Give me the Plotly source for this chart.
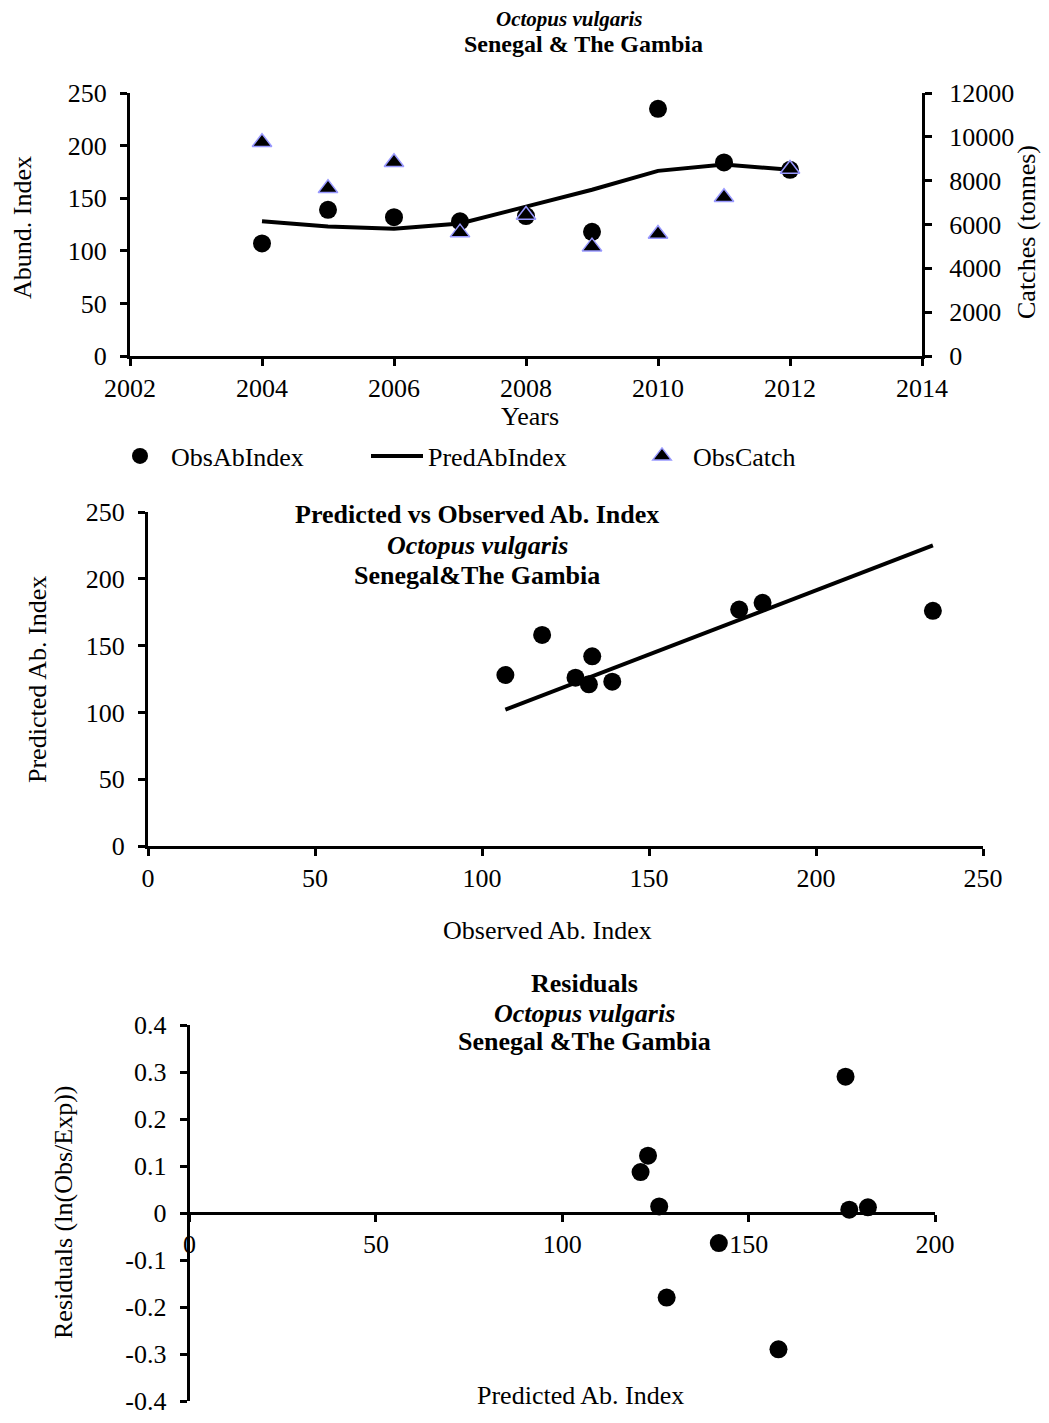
import plotly.graph_objects as go

# the page body keeps its default 8px margin, so the figure is drawn 8px in
OFF = 8
W, H = 1049 - 2 * OFF, 1423 - 2 * OFF

years = [2004, 2005, 2006, 2007, 2008, 2009, 2010, 2011, 2012]
obs_index = [107, 139, 132, 128, 133, 118, 235, 184, 177]
pred_index = [128, 123, 121, 126, 142, 158, 176, 182, 177]
obs_catch = [9750, 7650, 8840, 5630, 6430, 4990, 5570, 7240, 8530]
residuals = [-0.18, 0.122, 0.087, 0.014, -0.064, -0.29, 0.29, 0.012, 0.007]
trend_x = [107, 235]
trend_y = [102, 225]
resid_ticks = [-0.4, -0.3, -0.2, -0.1, 0, 0.1, 0.2, 0.3, 0.4]
resid_labels = ["-0.4", "-0.3", "-0.2", "-0.1", "0", "0.1", "0.2", "0.3", "0.4"]

FONT = "Liberation Serif"
FS = 26


def px(x):
    return (x - OFF) / W


def py(y):
    return 1 - (y - OFF) / H


fig = go.Figure()

# top panel: index and catches by year
fig.add_trace(go.Scatter(x=years, y=obs_index, mode="markers", name="ObsAbIndex",
                         marker=dict(symbol="circle", size=18, color="black"),
                         xaxis="x", yaxis="y", legend="legend"))
fig.add_trace(go.Scatter(x=years, y=pred_index, mode="lines", name="PredAbIndex",
                         line=dict(color="black", width=4),
                         xaxis="x", yaxis="y", legend="legend2"))
fig.add_trace(go.Scatter(x=years, y=obs_catch, mode="markers", name="ObsCatch",
                         marker=dict(symbol="triangle-up", size=17, color="black",
                                     line=dict(color="#9999ff", width=1.5)),
                         xaxis="x", yaxis="y2", legend="legend3"))

# middle panel: predicted vs observed
fig.add_trace(go.Scatter(x=obs_index, y=pred_index, mode="markers", showlegend=False,
                         marker=dict(symbol="circle", size=18, color="black"),
                         xaxis="x2", yaxis="y3"))
fig.add_trace(go.Scatter(x=trend_x, y=trend_y, mode="lines", showlegend=False,
                         line=dict(color="black", width=4),
                         xaxis="x2", yaxis="y3"))

# bottom panel: residuals
fig.add_trace(go.Scatter(x=pred_index, y=residuals, mode="markers", showlegend=False,
                         marker=dict(symbol="circle", size=18, color="black"),
                         xaxis="x3", yaxis="y4"))

ax = dict(showline=True, linecolor="black", linewidth=3, ticks="outside",
          ticklen=7, tickwidth=3, tickcolor="black", showgrid=False, zeroline=False,
          tickfont=dict(family=FONT, size=FS, color="black"))

y3_dom = [py(1401), py(1025)]
leg = dict(orientation="h", yanchor="middle", xanchor="left", itemwidth=52,
           font=dict(family=FONT, size=FS, color="black"), bgcolor="rgba(0,0,0,0)")

fig.update_layout(
    width=W, height=H, autosize=False,
    margin=dict(l=0, r=0, t=0, b=0, pad=0, autoexpand=False),
    paper_bgcolor="white", plot_bgcolor="white",
    font=dict(family=FONT, size=FS, color="black"),
    xaxis=dict(ax, domain=[px(130), px(922)], range=[2002, 2014], dtick=2, anchor="y"),
    yaxis=dict(ax, domain=[py(356), py(93)], range=[0, 250], dtick=50, anchor="x",
               ticklabelstandoff=8),
    yaxis2=dict(ax, range=[0, 12000], dtick=2000, tickformat="d", overlaying="y",
                side="right", anchor="x", ticklabelstandoff=12),
    xaxis2=dict(ax, domain=[px(148), px(983)], range=[0, 250], dtick=50, anchor="y3"),
    yaxis3=dict(ax, domain=[py(846), py(512)], range=[0, 250], dtick=50, anchor="x2",
                ticklabelstandoff=8),
    xaxis3=dict(ax, domain=[px(189.6), px(935)], range=[0, 200], dtick=50,
                anchor="free", position=(y3_dom[0] + y3_dom[1]) / 2),
    yaxis4=dict(ax, domain=y3_dom, range=[-0.4, 0.4], tickvals=resid_ticks,
                ticktext=resid_labels, anchor="x3", ticklabelstandoff=8,
                ticklabeloverflow="allow"),
    legend=dict(leg, x=px(109), y=py(456)),
    legend2=dict(leg, x=px(366), y=py(456)),
    legend3=dict(leg, x=px(631), y=py(456)),
)

notes = [
    ("<b><i>Octopus vulgaris</i></b>", 569, 19, 0, 21),
    ("<b>Senegal & The Gambia</b>", 583, 44, 0, 24),
    ("Abund. Index", 22, 228, -90, FS),
    ("Catches (tonnes)", 1027, 232, -90, FS),
    ("Years", 530, 417, 0, FS),
    ("<b>Predicted vs Observed Ab. Index</b>", 477, 515, 0, FS),
    ("<b><i>Octopus vulgaris</i></b>", 477, 545, 0, FS),
    ("<b>Senegal&The Gambia</b>", 477, 575, 0, FS),
    ("Predicted Ab. Index", 37, 680, -90, FS),
    ("Observed Ab. Index", 547, 930, 0, FS),
    ("<b>Residuals</b>", 584, 983, 0, FS),
    ("<b><i>Octopus vulgaris</i></b>", 584, 1013, 0, FS),
    ("<b>Senegal &The Gambia</b>", 584, 1041, 0, FS),
    ("Residuals (ln(Obs/Exp))", 63, 1213, -90, FS),
    ("Predicted Ab. Index", 580, 1395, 0, FS),
]
for text, x, y, ang, size in notes:
    fig.add_annotation(text=text, x=px(x), y=py(y), xref="paper", yref="paper",
                       xanchor="center", yanchor="middle", showarrow=False,
                       textangle=ang, font=dict(family=FONT, size=size, color="black"))

fig.write_html("out.html")
